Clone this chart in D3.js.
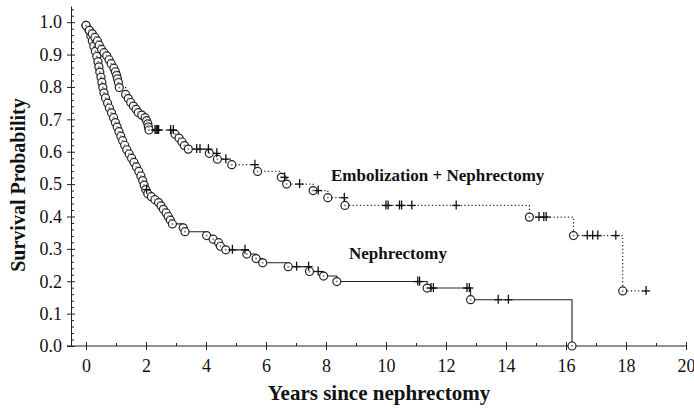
<!DOCTYPE html>
<html>
<head>
<meta charset="utf-8">
<script src="https://cdn.jsdelivr.net/npm/d3@7"></script>
<style>
  body { margin: 0; background: #fff; }
  svg text { font-family: "Liberation Serif", "Times New Roman", serif; fill: #111; }
  .axis text { font-size: 18px; }
  .axis line, .axis path { stroke: #222; }
  .ttl { font-weight: bold; }
</style>
</head>
<body>
<div id="chart"></div>
<script>
// Nephrectomy only (solid line): event times (years) and survival after each event
const nephTimes = [0.00, 0.10, 0.16, 0.21, 0.26, 0.31, 0.36, 0.40, 0.43, 0.46, 0.50, 0.53, 0.56, 0.60, 0.65,
  0.72, 0.78, 0.85, 0.92, 0.98, 1.04, 1.10, 1.16, 1.22, 1.29, 1.36, 1.44, 1.52, 1.60, 1.68, 1.76, 1.83,
  1.89, 1.94, 1.99, 2.06, 2.18, 2.30, 2.42, 2.50, 2.58, 2.67, 2.74, 2.81, 2.88, 3.24, 3.30, 4.02, 4.24,
  4.42, 4.48, 4.66, 5.36, 5.67, 5.89, 6.74, 7.45, 7.92, 8.36, 11.37, 12.82, 16.20];
const nephSurv = [0.990, 0.975, 0.958, 0.942, 0.926, 0.910, 0.894, 0.878, 0.862, 0.846, 0.830, 0.814, 0.798,
  0.782, 0.766, 0.750, 0.735, 0.720, 0.705, 0.690, 0.676, 0.662, 0.648, 0.634, 0.620, 0.606, 0.593, 0.580,
  0.567, 0.553, 0.539, 0.525, 0.511, 0.497, 0.483, 0.470, 0.461, 0.452, 0.443, 0.433, 0.422, 0.411, 0.400,
  0.389, 0.377, 0.365, 0.353, 0.341, 0.330, 0.319, 0.308, 0.297, 0.284, 0.270, 0.257, 0.245, 0.230, 0.216,
  0.199, 0.179, 0.143, 0.000];
const nephCensored = [2.02, 4.88, 5.30, 7.02, 7.42, 7.74, 11.06, 11.12, 11.50, 11.58, 12.70, 12.78, 13.74, 14.08];

// Embolization + Nephrectomy (dotted line)
const embTimes = [0.00, 0.11, 0.21, 0.30, 0.38, 0.44, 0.52, 0.60, 0.69, 0.77, 0.84, 0.93, 0.98, 1.02, 1.05,
  1.08, 1.11, 1.32, 1.41, 1.49, 1.58, 1.67, 1.74, 1.86, 1.97, 2.02, 2.06, 2.08, 2.10, 2.97, 3.10, 3.20,
  3.28, 3.41, 4.11, 4.38, 4.86, 5.72, 6.51, 6.69, 7.57, 8.06, 8.63, 14.78, 16.25, 17.89];
const embSurv = [0.990, 0.975, 0.964, 0.953, 0.942, 0.929, 0.916, 0.906, 0.896, 0.884, 0.872, 0.858, 0.847,
  0.836, 0.825, 0.814, 0.798, 0.777, 0.764, 0.752, 0.741, 0.731, 0.721, 0.713, 0.705, 0.696, 0.686, 0.676,
  0.667, 0.654, 0.642, 0.630, 0.619, 0.608, 0.595, 0.577, 0.560, 0.539, 0.521, 0.500, 0.480, 0.458, 0.434,
  0.398, 0.341, 0.170];
const embCensored = [2.30, 2.34, 2.38, 2.42, 2.82, 2.91, 3.69, 3.80, 4.08, 4.36, 4.66, 5.63, 6.62, 7.12, 7.74,
  8.61, 10.00, 10.07, 10.45, 10.52, 10.86, 12.34, 15.10, 15.26, 15.34, 16.71, 16.89, 17.06, 17.66, 18.67];

const xTicks = [0, 2, 4, 6, 8, 10, 12, 14, 16, 18, 20];
const xMinorTicks = [1, 3, 5, 7, 9, 11, 13, 15, 17, 19];
const yTicks = [0, 0.1, 0.2, 0.3, 0.4, 0.5, 0.6, 0.7, 0.8, 0.9, 1.0];
const yMinorTicks = [0.02, 0.04, 0.06, 0.08, 0.12, 0.14, 0.16, 0.18, 0.22, 0.24, 0.26, 0.28, 0.32, 0.34, 0.36,
  0.38, 0.42, 0.44, 0.46, 0.48, 0.52, 0.54, 0.56, 0.58, 0.62, 0.64, 0.66, 0.68, 0.72, 0.74, 0.76, 0.78,
  0.82, 0.84, 0.86, 0.88, 0.92, 0.94, 0.96, 0.98, 1.02, 1.04];

const w = 694, h = 408;

const x = d3.scaleLinear().domain([-0.5, 20]).range([71, 686]);
const y = d3.scaleLinear().domain([0, 1.05]).range([346, 6]);

const svg = d3.select("#chart").append("svg")
  .attr("width", w)
  .attr("height", h);

// axes
const xAxis = svg.append("g").attr("class", "axis")
  .attr("transform", "translate(0," + y(0) + ")")
  .call(d3.axisBottom(x).tickValues(xTicks).tickSize(4).tickPadding(9).tickSizeOuter(0));
xAxis.select(".domain").remove();
xAxis.selectAll(".tick line").attr("y1", -4);
svg.append("g").attr("class", "axis")
  .attr("transform", "translate(0," + y(0) + ")")
  .call(d3.axisBottom(x).tickValues(xMinorTicks).tickSize(-3).tickFormat(""))
  .select(".domain").remove();
svg.append("line")
  .attr("x1", x.range()[0] - 4).attr("x2", x(20))
  .attr("y1", y(0)).attr("y2", y(0))
  .attr("stroke", "#222");

const yAxis = svg.append("g").attr("class", "axis")
  .attr("transform", "translate(" + x(-0.5) + ",0)")
  .call(d3.axisLeft(y).tickValues(yTicks).tickSize(4).tickPadding(5).tickSizeOuter(0).tickFormat(d3.format(".1f")));
yAxis.selectAll(".tick line").attr("x1", 4);
svg.append("g").attr("class", "axis")
  .attr("transform", "translate(" + x(-0.5) + ",0)")
  .call(d3.axisLeft(y).tickValues(yMinorTicks).tickSize(-3).tickFormat(""))
  .select(".domain").remove();

// Kaplan-Meier helpers
function stepPoints(times, surv, censored) {
  const pts = [[0, 1]];
  let s = 1;
  times.forEach((t, i) => {
    pts.push([t, s]);
    s = surv[i];
    pts.push([t, s]);
  });
  const lastC = d3.max(censored);
  if (lastC > times[times.length - 1] && s > 0) pts.push([lastC, s]);
  return pts;
}
function survAt(times, surv, t) {
  let s = 1;
  times.forEach((tt, i) => { if (tt <= t) s = surv[i]; });
  return s;
}

const line = d3.line().x(d => x(d[0])).y(d => y(d[1]));

const groups = [
  { times: nephTimes, surv: nephSurv, censored: nephCensored, dash: null, width: 1.1 },
  { times: embTimes, surv: embSurv, censored: embCensored, dash: "1.2,2.4", width: 1.2 }
];

groups.forEach(g => {
  svg.append("path")
    .datum(stepPoints(g.times, g.surv, g.censored))
    .attr("d", line)
    .attr("fill", "none")
    .attr("stroke", "#222")
    .attr("stroke-width", g.width)
    .attr("stroke-dasharray", g.dash);
});

groups.forEach(g => {
  const ev = g.times.map((t, i) => [t, g.surv[i]]);
  const c = svg.append("g");
  c.selectAll("circle.ev").data(ev).enter().append("circle")
    .attr("class", "ev")
    .attr("cx", d => x(d[0]))
    .attr("cy", d => y(d[1]))
    .attr("r", 4)
    .attr("fill", "#fff")
    .attr("stroke", "#222")
    .attr("stroke-width", 1.2);
  c.selectAll("circle.dot").data(ev).enter().append("circle")
    .attr("class", "dot")
    .attr("cx", d => x(d[0]))
    .attr("cy", d => y(d[1]))
    .attr("r", 1)
    .attr("fill", "#888");

  const cens = g.censored.map(t => [t, survAt(g.times, g.surv, t)]);
  const p = svg.append("g").attr("stroke", "#111").attr("stroke-width", 1.3);
  p.selectAll("line.v").data(cens).enter().append("line")
    .attr("x1", d => x(d[0])).attr("x2", d => x(d[0]))
    .attr("y1", d => y(d[1]) - 5).attr("y2", d => y(d[1]) + 4);
  p.selectAll("line.hz").data(cens).enter().append("line")
    .attr("x1", d => x(d[0]) - 4).attr("x2", d => x(d[0]) + 4)
    .attr("y1", d => y(d[1])).attr("y2", d => y(d[1]));
});

// labels
svg.append("text").attr("class", "ttl")
  .attr("x", 331).attr("y", 181)
  .style("font-size", "17px")
  .text("Embolization + Nephrectomy");
svg.append("text").attr("class", "ttl")
  .attr("x", 349).attr("y", 259)
  .style("font-size", "17px")
  .text("Nephrectomy");

svg.append("text").attr("class", "ttl")
  .attr("text-anchor", "middle")
  .attr("transform", "translate(25,185)rotate(-90)")
  .style("font-size", "20px")
  .text("Survival Probability");
svg.append("text").attr("class", "ttl")
  .attr("text-anchor", "middle")
  .attr("x", 379).attr("y", 400)
  .style("font-size", "21px")
  .text("Years since nephrectomy");
</script>
</body>
</html>
